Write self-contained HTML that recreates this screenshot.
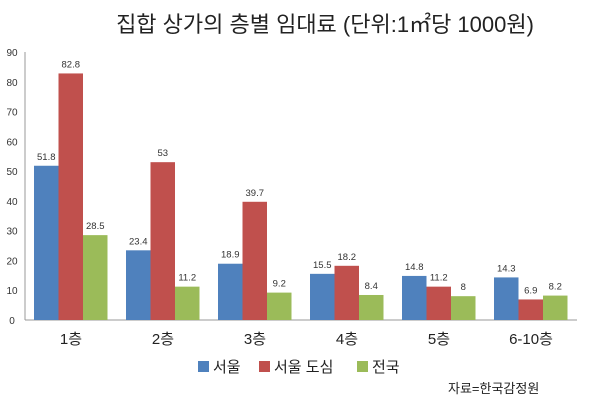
<!DOCTYPE html>
<html><head><meta charset="utf-8"><style>
body{margin:0;background:#fff;}
svg{display:block;font-family:"Liberation Sans","Noto Sans CJK KR",sans-serif;}
</style></head><body>
<svg width="600" height="405" viewBox="0 0 600 405">
<text x="325" y="32" text-anchor="middle" font-size="22" fill="#222">집합 상가의 층별 임대료 (단위:1㎡당 1000원)</text>
<g id="axes"></g>
<g id="bars"></g>
<g>
<rect x="198" y="361" width="11" height="11" fill="#4f81bd"/>
<text x="213" y="372" font-size="15" fill="#222">서울</text>
<rect x="259" y="361" width="11" height="11" fill="#c0504d"/>
<text x="274" y="372" font-size="15" fill="#222">서울 도심</text>
<rect x="357" y="361" width="11" height="11" fill="#9bbb59"/>
<text x="372" y="372" font-size="15" fill="#222">전국</text>
</g>
<text x="448" y="393" font-size="13" fill="#222">자료=한국감정원</text>
</svg>
<script>
const categories=["1층","2층","3층","4층","5층","6-10층"];
const seoul=[51.8,23.4,18.9,15.5,14.8,14.3];
const seoulDowntown=[82.8,53,39.7,18.2,11.2,6.9];
const national=[28.5,11.2,9.2,8.4,8,8.2];
const yTicks=[0,10,20,30,40,50,60,70,80,90];
const NS="http://www.w3.org/2000/svg";
const x0=25,x1=577,y0=320,y90=52;
const yScale=v=>y0-(v/90)*(y0-y90);
const gw=(x1-x0)/categories.length;
const xCenter=i=>x0+gw*(i+0.5);
function mk(tag,attrs,parent,text){const e=document.createElementNS(NS,tag);for(const k in attrs)e.setAttribute(k,attrs[k]);if(text!==undefined)e.textContent=text;parent.appendChild(e);return e;}
const axes=document.getElementById('axes');
const yl=mk('line',{x1:x0,y1:y90,x2:x0,y2:y0,stroke:'#999'},axes);


const xl=mk('line',{x1:x0,y1:y0,x2:x1,y2:y0,stroke:'#999'},axes);


yTicks.forEach(t=>{const e=mk('text',{x:12,y:yScale(t)+4,'text-anchor':'middle','font-size':10,fill:'#333'},axes,t);

});
categories.forEach((c,i)=>{const e=mk('text',{x:xCenter(i),y:344,'text-anchor':'middle','font-size':15,fill:'#222'},axes,c);

});
const bars=document.getElementById('bars');
const series=[[seoul,'#4f81bd','seoul'],[seoulDowntown,'#c0504d','seoul-downtown'],[national,'#9bbb59','national']];
const bw=24.5;
series.forEach(([vals,col,nm],s)=>{vals.forEach((v,i)=>{
const bx=xCenter(i)-37+s*bw;const by=yScale(v);
const r=mk('rect',{x:bx,y:by,width:bw,height:y0-by,fill:col},bars);


const t=mk('text',{x:bx+bw/2,y:by-6,'text-anchor':'middle','font-size':9.5,fill:'#333'},bars,v);


});});
</script>
</body></html>
